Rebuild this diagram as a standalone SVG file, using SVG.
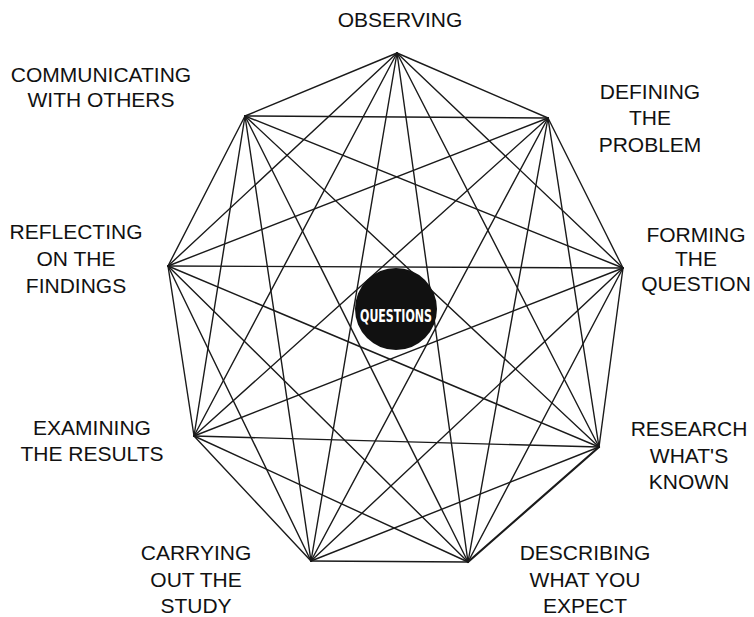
<svg xmlns="http://www.w3.org/2000/svg" width="754" height="617" viewBox="0 0 754 617">
<style>
.lbl{font-family:"Liberation Sans",Arial,sans-serif;font-size:21px;fill:#111;text-anchor:middle}
.e line{stroke:#1a1a1a;stroke-width:1.4;stroke-linecap:round}
</style>
<rect width="754" height="617" fill="#fff"/>
<g id="connectors" class="e">
<line x1="397" y1="53" x2="548" y2="118"/>
<line x1="397" y1="53" x2="623" y2="268"/>
<line x1="397" y1="53" x2="599" y2="447"/>
<line x1="397" y1="53" x2="468" y2="562"/>
<line x1="397" y1="53" x2="311" y2="561"/>
<line x1="397" y1="53" x2="194" y2="436"/>
<line x1="397" y1="53" x2="168" y2="266"/>
<line x1="397" y1="53" x2="245" y2="116"/>
<line x1="548" y1="118" x2="623" y2="268"/>
<line x1="548" y1="118" x2="599" y2="447"/>
<line x1="548" y1="118" x2="468" y2="562"/>
<line x1="548" y1="118" x2="311" y2="561"/>
<line x1="548" y1="118" x2="194" y2="436"/>
<line x1="548" y1="118" x2="168" y2="266"/>
<line x1="548" y1="118" x2="245" y2="116"/>
<line x1="623" y1="268" x2="599" y2="447"/>
<line x1="623" y1="268" x2="468" y2="562"/>
<line x1="623" y1="268" x2="311" y2="561"/>
<line x1="623" y1="268" x2="194" y2="436"/>
<line x1="623" y1="268" x2="168" y2="266"/>
<line x1="623" y1="268" x2="245" y2="116"/>
<line x1="599" y1="447" x2="468" y2="562" style="stroke-width:2.2"/>
<line x1="599" y1="447" x2="311" y2="561"/>
<line x1="599" y1="447" x2="194" y2="436"/>
<line x1="599" y1="447" x2="168" y2="266"/>
<line x1="599" y1="447" x2="245" y2="116"/>
<line x1="468" y1="562" x2="311" y2="561"/>
<line x1="468" y1="562" x2="194" y2="436"/>
<line x1="468" y1="562" x2="168" y2="266"/>
<line x1="468" y1="562" x2="245" y2="116"/>
<line x1="311" y1="561" x2="194" y2="436"/>
<line x1="311" y1="561" x2="168" y2="266"/>
<line x1="311" y1="561" x2="245" y2="116"/>
<line x1="194" y1="436" x2="168" y2="266"/>
<line x1="194" y1="436" x2="245" y2="116"/>
<line x1="168" y1="266" x2="245" y2="116"/>
</g>
<g id="questions">
<circle cx="396" cy="309" r="41" fill="#111"/>
<text x="396" y="322" font-family="'DejaVu Sans Condensed','DejaVu Sans',sans-serif" font-weight="bold" font-size="17" fill="#fff" text-anchor="middle" textLength="72" lengthAdjust="spacingAndGlyphs">QUESTIONS</text>
</g>
<g id="observing"><text class="lbl" x="400" y="27">OBSERVING</text></g>
<g id="defining"><text class="lbl" x="650" y="99">DEFINING</text><text class="lbl" x="650" y="125">THE</text><text class="lbl" x="650" y="152">PROBLEM</text></g>
<g id="forming"><text class="lbl" x="696" y="242">FORMING</text><text class="lbl" x="696" y="266">THE</text><text class="lbl" x="696" y="291">QUESTION</text></g>
<g id="research"><text class="lbl" x="689" y="436">RESEARCH</text><text class="lbl" x="689" y="463">WHAT'S</text><text class="lbl" x="689" y="489">KNOWN</text></g>
<g id="describing"><text class="lbl" x="585" y="560">DESCRIBING</text><text class="lbl" x="585" y="587">WHAT YOU</text><text class="lbl" x="585" y="613">EXPECT</text></g>
<g id="carrying"><text class="lbl" x="196" y="560">CARRYING</text><text class="lbl" x="196" y="587">OUT THE</text><text class="lbl" x="196" y="613">STUDY</text></g>
<g id="examining"><text class="lbl" x="92" y="435">EXAMINING</text><text class="lbl" x="92" y="461">THE RESULTS</text></g>
<g id="reflecting"><text class="lbl" x="76" y="239">REFLECTING</text><text class="lbl" x="76" y="266">ON THE</text><text class="lbl" x="76" y="293">FINDINGS</text></g>
<g id="communicating"><text class="lbl" x="101" y="82">COMMUNICATING</text><text class="lbl" x="101" y="107">WITH OTHERS</text></g>
</svg>
